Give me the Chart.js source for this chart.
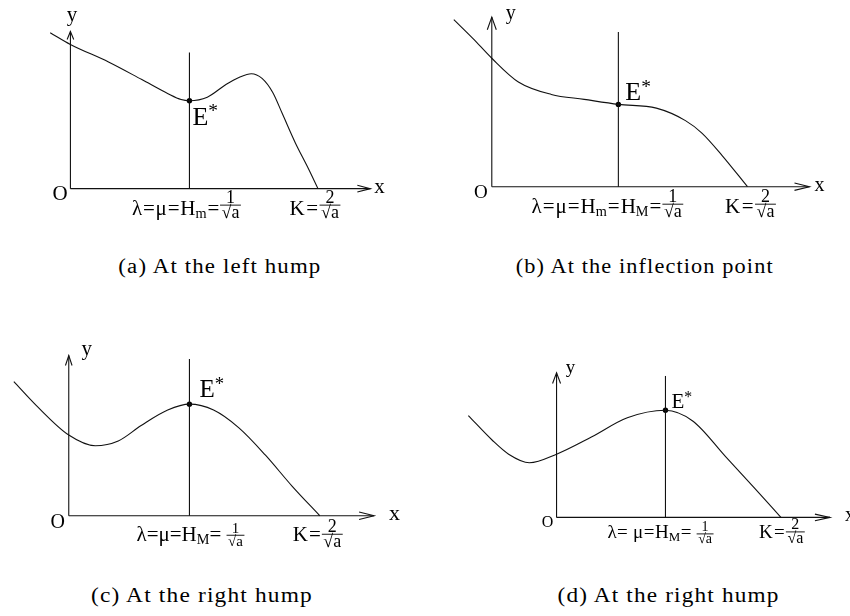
<!DOCTYPE html>
<html>
<head>
<meta charset="utf-8">
<script src="https://cdn.jsdelivr.net/npm/chart.js@4"></script>
<style>
  html, body { margin: 0; padding: 0; background: #fff; }
  body { width: 850px; height: 616px; position: relative; overflow: hidden; }
  canvas.panel { position: absolute; }
  .cap { position: absolute; white-space: nowrap; font-family: "Liberation Serif", "Times New Roman", serif;
         font-size: 20px; letter-spacing: 1px; color: #000; transform-origin: center center; line-height: 22px; }
</style>
</head>
<body>
<canvas id="pa" class="panel"></canvas>
<canvas id="pb" class="panel"></canvas>
<canvas id="pc" class="panel"></canvas>
<canvas id="pd" class="panel"></canvas>
<div id="capa" class="cap"></div>
<div id="capb" class="cap"></div>
<div id="capc" class="cap"></div>
<div id="capd" class="cap"></div>
<script>
// ================= DATA =================
// x in units of lambda (= H = 1/sqrt(a)), y in the same units
const curveAX = [-0.17, 0, 0.32, 0.60, 0.82, 0.93, 1.00, 1.15, 1.31, 1.42, 1.52, 1.61, 1.70, 1.78, 1.89, 2.00, 2.08];
const curveAY = [1.33, 1.23, 1.08, 0.93, 0.81, 0.76, 0.75, 0.78, 0.89, 0.95, 0.98, 0.94, 0.82, 0.64, 0.39, 0.17, 0];
const curveBX = [-0.30, -0.15, 0, 0.21, 0.47, 0.73, 1.00, 1.30, 1.53, 1.66, 1.82, 2.02];
const curveBY = [1.34, 1.19, 1.03, 0.84, 0.74, 0.70, 0.66, 0.63, 0.53, 0.43, 0.25, 0];
const curveCX = [-0.455, -0.27, 0, 0.22, 0.41, 0.60, 0.82, 1.00, 1.20, 1.41, 1.63, 1.85, 2.08];
const curveCY = [1.13, 0.93, 0.68, 0.59, 0.63, 0.76, 0.89, 0.94, 0.89, 0.74, 0.51, 0.25, 0];
const curveDX = [-0.81, -0.59, -0.44, -0.25, 0, 0.32, 0.65, 1.00, 1.25, 1.55, 1.82, 2.06];
const curveDY = [0.95, 0.72, 0.59, 0.51, 0.59, 0.75, 0.93, 1.00, 0.90, 0.57, 0.27, 0];

const lambdaValues = [1, 1, 1, 1];            // x of the vertical line / E*
const equilibriumY = [0.75, 0.66, 0.94, 1.00]; // y of E*
const kValues = [2.08, 2.02, 2.08, 2.06];      // K = 2/sqrt(a)

const captions = ['(a) At the left hump', '(b) At the inflection point', '(c) At the right hump', '(d) At the right hump'];

// tick labels (math tokens)
const lambdaTickA = ['λ', '=', 'μ', '=', 'H', {sub: 'm'}, '=', {frac: ['1', '√a']}];
const lambdaTickB = ['λ', '=', 'μ', '=', 'H', {sub: 'm'}, '=', 'H', {sub: 'M'}, '=', {frac: ['1', '√a']}];
const lambdaTickC = ['λ', '=', 'μ', '=', 'H', {sub: 'M'}, '= ', {frac: ['1', '√a']}];
const lambdaTickD = ['λ', '= ', 'μ', '=', 'H', {sub: 'M'}, '= ', {frac: ['1', '√a']}];
const kTick = ['K', '=', {frac: ['2', '√a']}];
const pointLabel = ['E', {sup: '*'}];
const axisNames = ['x', 'y', 'O'];

// ================= LAYOUT / STYLE =================
const FONT = '"Liberation Serif", "Times New Roman", serif';
const panels = [
  { id: 'pa', cap: 'capa', box: [0, 0, 425, 240], origin: [67.7, 191], unit: 121.3,
    cx: curveAX, cy: curveAY, xEnd: 2.52, yTop: 1.34, vTop: 1.16,
    arrowX: [13, 3.3], arrowY: [8, 3.3],
    lam: { tokens: lambdaTickA, dx: -3, dy: 26, size: 21, fs: 18, rise: 10, gap: 0.8 },
    k:   { tokens: kTick, dx: -3, dy: 26, size: 21, fs: 18, rise: 10, gap: 1.5 },
    e: { dx: 3, dy: 24, size: 26 },
    xl: { dx: 4, dy: 4, size: 21 }, yl: { dx: 1.5, dy: -11, size: 21 }, ol: { dx: -2.7, dy: 11, size: 21 },
    capPos: [220, 266, 203] },
  { id: 'pb', cap: 'capb', box: [425, 0, 425, 240], origin: [489, 189], unit: 129,
    cx: curveBX, cy: curveBY, xEnd: 2.51, yTop: 1.36, vTop: 1.24,
    arrowX: [15, 3.7], arrowY: [12.7, 4.5],
    lam: { tokens: lambdaTickB, dx: -11, dy: 26, size: 21, fs: 18, rise: 9, gap: 1 },
    k:   { tokens: kTick, dx: 3, dy: 26, size: 21, fs: 18, rise: 9, gap: 1.5 },
    e: { dx: 7, dy: -4, size: 26 },
    xl: { dx: 5, dy: 4, size: 20 }, yl: { dx: 19, dy: 2, size: 20 }, ol: { dx: -4, dy: 11, size: 19 },
    capPos: [645, 266, 258] },
  { id: 'pc', cap: 'capc', box: [0, 330, 425, 230], origin: [66, 518.3], unit: 123,
    cx: curveCX, cy: curveCY, xEnd: 2.53, yTop: 1.35, vTop: 1.32,
    arrowX: [15, 3.8], arrowY: [10, 3.3],
    lam: { tokens: lambdaTickC, dx: 1, dy: 25, size: 21, fs: 15, rise: 6, gap: 0 },
    k:   { tokens: kTick, dx: -2, dy: 25, size: 21, fs: 18, rise: 7, gap: 1 },
    e: { dx: 10, dy: -7, size: 25 },
    xl: { dx: 15, dy: 4, size: 22 }, yl: { dx: 18, dy: 0, size: 21 }, ol: { dx: -3.7, dy: 12, size: 20 },
    capPos: [202, 595, 222] },
  { id: 'pd', cap: 'capd', box: [425, 330, 425, 230], origin: [555, 520], unit: 111,
    cx: curveDX, cy: curveDY, xEnd: 2.51, yTop: 1.35, vTop: 1.32,
    arrowX: [15, 3.3], arrowY: [10.7, 4],
    lam: { tokens: lambdaTickD, dx: -5, dy: 21, size: 19, fs: 14, rise: 5, gap: 0.5 },
    k:   { tokens: kTick, dx: 1, dy: 21, size: 19, fs: 16, rise: 7, gap: 1.2 },
    e: { dx: 6, dy: -2, size: 21 },
    xl: { dx: 15, dy: 4, size: 20 }, yl: { dx: 14, dy: 0, size: 19 }, ol: { dx: -3.3, dy: 10, size: 16 },
    capPos: [668, 595, 222] }
];

// ---------- math text renderer ----------
function drawMath(ctx, tokens, cx, baseline, o, align) {
  const size = o.size, fs = o.fs || size * 0.75, gap = o.gap || 0;
  const items = []; let w = 0;
  tokens.forEach((tk, i) => {
    let it;
    if (typeof tk === 'string') {
      ctx.font = `${size}px ${FONT}`; it = { k: 't', s: tk, w: ctx.measureText(tk).width };
    } else if (tk.sub) {
      ctx.font = `${size * 0.68}px ${FONT}`; it = { k: 'sub', s: tk.sub, w: ctx.measureText(tk.sub).width };
    } else if (tk.sup) {
      ctx.font = `${size * 0.75}px ${FONT}`; it = { k: 'sup', s: tk.sup, w: ctx.measureText(tk.sup).width };
    } else {
      ctx.font = `${fs}px ${FONT}`;
      const nw = ctx.measureText(tk.frac[0]).width, dw = ctx.measureText(tk.frac[1]).width;
      it = { k: 'f', n: tk.frac[0], d: tk.frac[1], nw, dw, w: Math.max(nw, dw) + 3 };
    }
    it.x = w;
    const next = tokens[i + 1];
    w += it.w + (next && typeof next === 'object' && (next.sub || next.sup) ? 0 : (next ? gap : 0));
    items.push(it);
  });
  const x0 = align === 'left' ? cx : (align === 'right' ? cx - w : cx - w / 2);
  ctx.save();
  ctx.fillStyle = '#000'; ctx.strokeStyle = '#000'; ctx.textBaseline = 'alphabetic'; ctx.textAlign = 'left';
  for (const it of items) {
    const x = x0 + it.x;
    if (it.k === 't') { ctx.font = `${size}px ${FONT}`; ctx.fillText(it.s, x, baseline); }
    else if (it.k === 'sub') { ctx.font = `${size * 0.68}px ${FONT}`; ctx.fillText(it.s, x, baseline + size * 0.15); }
    else if (it.k === 'sup') { ctx.font = `${size * 0.75}px ${FONT}`; ctx.fillText(it.s, x, baseline - size * 0.3); }
    else {
      const barY = baseline - o.rise;
      ctx.font = `${fs}px ${FONT}`;
      ctx.fillText(it.n, x + (it.w - it.nw) / 2, barY - 2);
      ctx.fillText(it.d, x + (it.w - it.dw) / 2, barY + fs * 0.72);
      ctx.lineWidth = 0.9; ctx.beginPath(); ctx.moveTo(x, barY + 0.5); ctx.lineTo(x + it.w, barY + 0.5); ctx.stroke();
    }
  }
  ctx.restore();
}

const annotate = {
  id: 'annotate',
  afterDatasetsDraw(chart) {
    const p = chart.options.plugins.annotate.panel;
    const i = chart.options.plugins.annotate.index;
    const ctx = chart.ctx, sx = chart.scales.x, sy = chart.scales.y;
    const ox = sx.getPixelForValue(0), oy = sy.getPixelForValue(0);
    const xe = sx.getPixelForValue(p.xEnd), yt = sy.getPixelForValue(p.yTop);
    ctx.save();
    ctx.strokeStyle = '#111'; ctx.lineWidth = 1.1;
    // arrow heads (open)
    ctx.beginPath();
    ctx.moveTo(xe - p.arrowX[0], oy - p.arrowX[1]); ctx.lineTo(xe, oy); ctx.lineTo(xe - p.arrowX[0], oy + p.arrowX[1]);
    ctx.moveTo(ox - p.arrowY[1], yt + p.arrowY[0]); ctx.lineTo(ox, yt); ctx.lineTo(ox + p.arrowY[1], yt + p.arrowY[0]);
    ctx.stroke();
    ctx.restore();
    // axis names
    drawMath(ctx, [axisNames[0]], xe + p.xl.dx, oy + p.xl.dy, { size: p.xl.size }, 'left');
    drawMath(ctx, [axisNames[1]], ox + p.yl.dx, yt + p.yl.dy, { size: p.yl.size }, 'center');
    drawMath(ctx, [axisNames[2]], ox + p.ol.dx, oy + p.ol.dy, { size: p.ol.size }, 'right');
    // tick labels
    const lx = sx.getPixelForValue(lambdaValues[i]);
    drawMath(ctx, p.lam.tokens, lx + p.lam.dx, oy + p.lam.dy, p.lam, 'center');
    const kx = sx.getPixelForValue(kValues[i]);
    drawMath(ctx, p.k.tokens, kx + p.k.dx, oy + p.k.dy, p.k, 'center');
    // E*
    const ey = sy.getPixelForValue(equilibriumY[i]);
    drawMath(ctx, pointLabel, lx + p.e.dx, ey + p.e.dy, { size: p.e.size }, 'left');
  }
};
Chart.register(annotate);

panels.forEach((p, i) => {
  const cv = document.getElementById(p.id);
  const [L, T, W, H] = p.box;
  cv.width = W; cv.height = H;
  cv.style.left = L + 'px'; cv.style.top = T + 'px'; cv.style.width = W + 'px'; cv.style.height = H + 'px';
  const u = p.unit, [ox, oy] = p.origin;
  const line = { showLine: true, pointRadius: 0, borderColor: '#111', borderWidth: 1.1, fill: false };
  new Chart(cv, {
    type: 'scatter',
    data: {
      datasets: [
        { ...line, data: p.cx.map((x, j) => ({ x, y: p.cy[j] })), cubicInterpolationMode: 'monotone', borderWidth: 1.1 },
        { ...line, data: [{ x: 0, y: 0 }, { x: p.xEnd, y: 0 }] },
        { ...line, data: [{ x: 0, y: 0 }, { x: 0, y: p.yTop }] },
        { ...line, data: [{ x: lambdaValues[i], y: 0 }, { x: lambdaValues[i], y: p.vTop }] },
        { data: [{ x: lambdaValues[i], y: equilibriumY[i] }], pointRadius: 2.7, pointBackgroundColor: '#000', pointBorderColor: '#000', borderWidth: 0, showLine: false }
      ]
    },
    options: {
      responsive: false, animation: false, devicePixelRatio: 1,
      layout: { padding: 0 },
      scales: {
        x: { type: 'linear', display: false, min: (L - ox) / u, max: (L + W - ox) / u },
        y: { type: 'linear', display: false, min: (oy - (T + H)) / u, max: (oy - T) / u }
      },
      plugins: { legend: { display: false }, tooltip: { enabled: false }, annotate: { panel: p, index: i } },
      events: []
    }
  });
  // caption
  const c = document.getElementById(p.cap);
  c.textContent = captions[i];
  const nat = c.getBoundingClientRect().width;
  const [ccx, ccy, cw] = p.capPos;
  c.style.left = (ccx - nat / 2) + 'px';
  c.style.top = (ccy - 11) + 'px';
  c.style.transform = `scaleX(${cw / nat})`;
});
</script>
</body>
</html>
